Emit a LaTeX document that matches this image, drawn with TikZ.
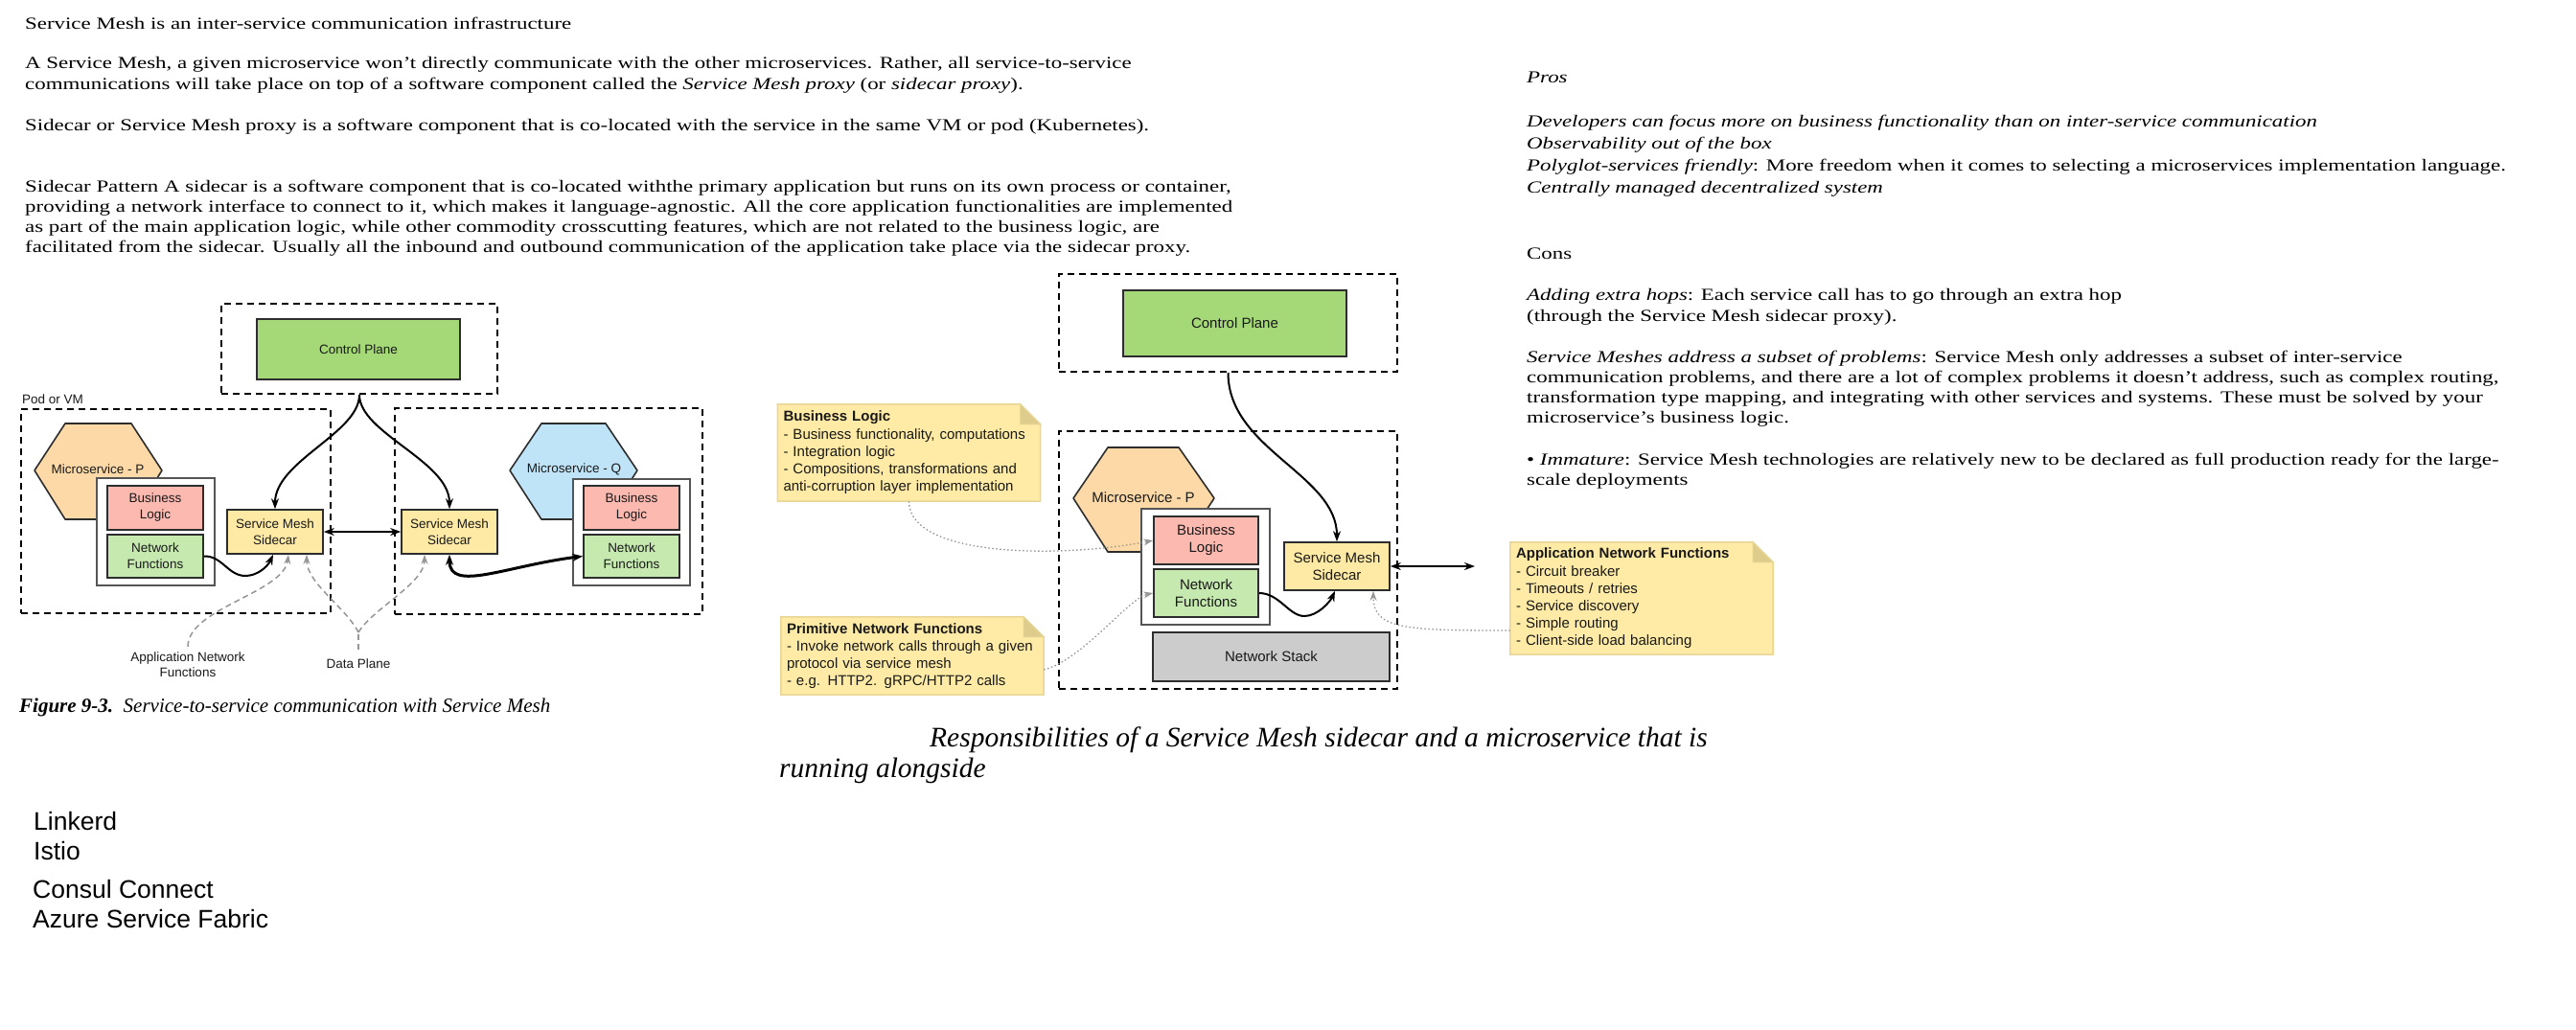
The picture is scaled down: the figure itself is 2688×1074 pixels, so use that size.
\documentclass[tikz,border=0pt]{standalone}
\usepackage{fontspec}
\setmainfont{Liberation Serif}
\setsansfont{Liberation Sans}
\newfontfamily\bodyfont[FakeStretch=1.3]{Liberation Serif}
\usetikzlibrary{arrows.meta, backgrounds}
\definecolor{ink}{RGB}{25,25,25}
\definecolor{boxline}{RGB}{45,45,45}
\definecolor{appline}{RGB}{85,85,85}
\definecolor{cpgreen}{RGB}{165,217,120}
\definecolor{bizpink}{RGB}{252,185,176}
\definecolor{netgreen}{RGB}{198,233,176}
\definecolor{carfill}{RGB}{255,234,165}
\definecolor{hexorange}{RGB}{252,217,166}
\definecolor{hexblue}{RGB}{192,228,247}
\definecolor{stackgray}{RGB}{204,204,204}
\definecolor{notefill}{RGB}{255,235,165}
\definecolor{noteline}{RGB}{232,214,150}
\definecolor{notefold}{RGB}{222,204,140}
\definecolor{hintgray}{RGB}{150,150,150}

% sticky note with a folded corner, drawn round a named node
\newcommand{\dogear}[1]{%
  \filldraw[fill=notefill, draw=noteline, line width=1.5pt] (#1.north west) -- ([xshift=-21pt]#1.north east) -- ([yshift=-21pt]#1.north east) -- (#1.south east) -- (#1.south west) -- cycle;
  \filldraw[fill=notefold, draw=noteline, line width=1pt] ([xshift=-21pt]#1.north east) -- ([xshift=-21pt,yshift=-21pt]#1.north east) -- ([yshift=-21pt]#1.north east) -- cycle;}

\begin{document}
\begin{tikzpicture}[x=1pt, y=-1pt,
    block/.style={draw=boxline, line width=1.6pt, align=center, inner sep=0pt, text=ink, font=\sffamily\fontsize{13.5}{17}\selectfont},
    bigblock/.style={block, font=\sffamily\fontsize{15}{18}\selectfont},
    zone/.style={draw=black, line width=2pt, dash pattern=on 7pt off 5pt, inner sep=0pt},
    appbox/.style={draw=appline, line width=1.6pt, fill=white, inner sep=0pt},
    hexa/.style={draw=boxline, line width=1.6pt, line join=round},
    lbl/.style={text=ink, align=center, inner sep=0pt, font=\sffamily\fontsize{13.5}{16}\selectfont},
    biglbl/.style={lbl, font=\sffamily\fontsize{15}{18}\selectfont},
    arr/.style={line width=2pt, -{Stealth[length=11pt,width=8pt]}},
    link/.style={line width=2.6pt, {Stealth[length=11pt,width=8pt]}-{Stealth[length=11pt,width=8pt]}},
    hint/.style={draw=hintgray, line width=1.5pt, dash pattern=on 6pt off 4pt, -{Stealth[length=10pt,width=7pt]}},
    dotlink/.style={draw=hintgray, line width=1.3pt, dash pattern=on 1.5pt off 2.5pt, -{Stealth[length=10pt,width=7pt]}},
    note/.style={inner sep=6pt, text width=262pt, align=left, text=ink, font=\sffamily\fontsize{15}{18.2}\selectfont},
    para/.style={anchor=base west, align=left, inner sep=0pt, font=\bodyfont\fontsize{17.6}{21.3}\selectfont}]
  \useasboundingbox (0,0) rectangle (2688,1074);

  % text at the top left (multi-line nodes sit on their last baseline)
  \node[para] (intro) at (26,30) {Service Mesh is an inter-service communication infrastructure};
  \node[para, font=\bodyfont\fontsize{17.6}{21.6}\selectfont] (meshdef) at (26,93.3) {A Service Mesh, a given microservice won’t directly communicate with the other microservices. Rather, all service-to-service\\communications will take place on top of a software component called the \textit{Service Mesh proxy} (or \textit{sidecar proxy}).};
  \node[para] (proxydef) at (26,136.7) {Sidecar or Service Mesh proxy is a software component that is co-located with the service in the same VM or pod (Kubernetes).};
  \node[para, font=\bodyfont\fontsize{17.6}{21}\selectfont] (pattern) at (26,263) {Sidecar Pattern A sidecar is a software component that is co-located withthe primary application but runs on its own process or container,\\providing a network interface to connect to it, which makes it language-agnostic. All the core application functionalities are implemented\\as part of the main application logic, while other commodity crosscutting features, which are not related to the business logic, are\\facilitated from the sidecar. Usually all the inbound and outbound communication of the application take place via the sidecar proxy.};

  % pros and cons
  \node[para] (pros) at (1593,86.7) {\textit{Pros}};
  \node[para, font=\bodyfont\fontsize{17.6}{23}\selectfont] (proslist) at (1593,201.7) {\textit{Developers can focus more on business functionality than on inter-service communication}\\\textit{Observability out of the box}\\\textit{Polyglot-services friendly}: More freedom when it comes to selecting a microservices implementation language.\\\textit{Centrally managed decentralized system}};
  \node[para] (cons) at (1593,270) {Cons};
  \node[para, font=\bodyfont\fontsize{17.6}{21.7}\selectfont] (hops) at (1593,335) {\textit{Adding extra hops}: Each service call has to go through an extra hop\\(through the Service Mesh sidecar proxy).};
  \node[para, font=\bodyfont\fontsize{17.6}{21.1}\selectfont] (subset) at (1593,441.6) {\textit{Service Meshes address a subset of problems}: Service Mesh only addresses a subset of inter-service\\communication problems, and there are a lot of complex problems it doesn’t address, such as complex routing,\\transformation type mapping, and integrating with other services and systems. These must be solved by your\\microservice’s business logic.};
  \node[para, font=\bodyfont\fontsize{17.6}{21.7}\selectfont] (immature) at (1593,506.7) {• \textit{Immature}: Service Mesh technologies are relatively new to be declared as full production ready for the large-\\scale deployments};

  % Figure 9-3: two pods talking through their sidecars
  \node[zone, minimum width=288pt, minimum height=94pt] (cpzone1) at (375,364) {};
  \node[block, fill=cpgreen, minimum width=212pt, minimum height=63pt] (cp1) at (374,364.5) {Control Plane};
  \node[zone, minimum width=323pt, minimum height=213pt] (podP) at (183.5,533.5) {};
  \node[zone, minimum width=321pt, minimum height=215pt] (podQ) at (572.5,533.5) {};
  \node[lbl, anchor=west] (podlbl) at (23,417) {Pod or VM};
  \draw[hexa, fill=hexorange] (36,491) -- (68,442) -- (137,442) -- (169,491) -- (137,542) -- (68,542) -- cycle;
  \node[lbl] (msP) at (102,490) {Microservice - P};
  \node[appbox, minimum width=123pt, minimum height=112pt] (appP) at (162.5,555) {};
  \node[block, fill=bizpink, minimum width=100pt, minimum height=46pt] (blP) at (162,530) {Business\\Logic};
  \node[block, fill=netgreen, minimum width=100pt, minimum height=45pt] (nfP) at (162,580.5) {Network\\Functions};
  \node[block, fill=carfill, minimum width=100pt, minimum height=46pt] (scP) at (287,555) {Service Mesh\\Sidecar};
  \draw[hexa, fill=hexblue] (532,491) -- (565,442) -- (632,442) -- (665,491) -- (632,542) -- (565,542) -- cycle;
  \node[lbl] (msQ) at (599,490) {Microservice - Q};
  \node[appbox, minimum width=122pt, minimum height=111pt] (appQ) at (659,555.5) {};
  \node[block, fill=bizpink, minimum width=100pt, minimum height=46pt] (blQ) at (659,530) {Business\\Logic};
  \node[block, fill=netgreen, minimum width=100pt, minimum height=45pt] (nfQ) at (659,580.5) {Network\\Functions};
  \node[block, fill=carfill, minimum width=100pt, minimum height=46pt] (scQ) at (469,555) {Service Mesh\\Sidecar};
  \node[lbl] (anflbl) at (196,694) {Application Network\\Functions};
  \node[lbl] (dplbl) at (374,693) {Data Plane};
  \coordinate (dpfork) at (374,660);

  \draw[arr] (cpzone1.south) .. controls +(0,40) and +(0,-50) .. (scP.north);
  \draw[arr] (cpzone1.south) .. controls +(0,40) and +(0,-50) .. (scQ.north);
  \draw[link] (scP.east) -- (scQ.west);
  \draw[arr] (nfP.east) .. controls (232,580) and (238,601) .. (256,601) .. controls (268,601) and (279,592) .. ([xshift=-2pt]scP.south);
  \draw[link, line width=3pt] (scQ.south) .. controls +(0,40) and +(-80,10) .. (nfQ.west);
  \draw[hint] ([yshift=6pt]anflbl.north) .. controls +(0,-40) and +(-5,40) .. ([xshift=14pt]scP.south);
  \draw[hint, -] ([yshift=10pt]dplbl.north) -- (dpfork);
  \draw[hint] (dpfork) .. controls +(-12,-25) and +(0,30) .. ([xshift=33pt]scP.south);
  \draw[hint] (dpfork) .. controls +(15,-25) and +(0,30) .. ([xshift=-26pt]scQ.south);

  \node[anchor=base west, inner sep=0pt, font=\fontsize{21}{25}\selectfont] (fig93) at (20,743) {\textbf{\textit{Figure 9-3.}}\ \ \textit{Service-to-service communication with Service Mesh}};

  % responsibilities of sidecar and microservice
  \node[zone, minimum width=353pt, minimum height=102pt] (cpzone2) at (1281.5,337) {};
  \node[bigblock, fill=cpgreen, minimum width=233pt, minimum height=69pt] (cp2) at (1288.5,337.5) {Control Plane};
  \node[zone, minimum width=353pt, minimum height=269pt] (podP2) at (1281.5,584.5) {};
  \draw[hexa, fill=hexorange] (1120,520) -- (1156,467) -- (1230,467) -- (1267,520) -- (1230,576) -- (1156,576) -- cycle;
  \node[biglbl] (msP2) at (1193,519) {Microservice - P};
  \node[appbox, minimum width=134pt, minimum height=121pt] (appP2) at (1258,591.5) {};
  \node[bigblock, fill=bizpink, minimum width=109pt, minimum height=50pt] (blP2) at (1258.5,564) {Business\\Logic};
  \node[bigblock, fill=netgreen, minimum width=109pt, minimum height=50pt] (nfP2) at (1258.5,619) {Network\\Functions};
  \node[bigblock, fill=carfill, minimum width=110pt, minimum height=50pt] (scP2) at (1395,591) {Service Mesh\\Sidecar};
  \node[bigblock, fill=stackgray, minimum width=247pt, minimum height=51pt] (stack) at (1326.5,685.5) {Network Stack};
  \coordinate (outP2) at (1539,591);

  \node[note, minimum height=101pt] (noteBL) at (948.5,472.5) {\textbf{Business Logic}\\- Business functionality, computations\\- Integration logic\\- Compositions, transformations and\\anti-corruption layer implementation};
  \node[note, minimum height=81pt] (notePNF) at (952,684.5) {\textbf{Primitive Network Functions}\\- Invoke network calls through a given\\protocol via service mesh\\- e.g. HTTP2. gRPC/HTTP2 calls};
  \node[note, minimum height=117pt] (noteANF) at (1713,624.5) {\textbf{Application Network Functions}\\- Circuit breaker\\- Timeouts / retries\\- Service discovery\\- Simple routing\\- Client-side load balancing};
  \begin{scope}[on background layer]
    \dogear{noteBL}
    \dogear{notePNF}
    \dogear{noteANF}
  \end{scope}

  \draw[arr] (cpzone2.south) .. controls +(0,80) and +(0,-70) .. (scP2.north);
  \draw[link] (scP2.east) -- (outP2);
  \draw[arr] (nfP2.east) .. controls (1335,619) and (1345,643) .. (1361,643) .. controls (1375,643) and (1388,628) .. ([xshift=-2pt]scP2.south);
  \draw[dotlink] (noteBL.south) .. controls +(0,60) and +(-90,18) .. (blP2.west);
  \draw[dotlink] ([yshift=-14.5pt]notePNF.east) .. controls +(40,-10) and +(-25,5) .. (nfP2.west);
  \draw[dotlink] ([yshift=-33.5pt]noteANF.west) .. controls +(-110,0) and +(0,40) .. ([xshift=38pt]scP2.south);

  \node[anchor=base west, inner sep=0pt, font=\itshape\fontsize{29.5}{32}\selectfont] (respA) at (970,779) {Responsibilities of a Service Mesh sidecar and a microservice that is};
  \node[anchor=base west, inner sep=0pt, font=\itshape\fontsize{29.5}{32}\selectfont] (respB) at (813,811) {running alongside};

  % service mesh products
  \node[anchor=base west, align=left, inner sep=0pt, font=\sffamily\fontsize{26.5}{31}\selectfont] (meshesA) at (35,897) {Linkerd\\Istio};
  \node[anchor=base west, align=left, inner sep=0pt, font=\sffamily\fontsize{26.5}{31}\selectfont] (meshesB) at (34,968) {Consul Connect\\Azure Service Fabric};
\end{tikzpicture}
\end{document}
